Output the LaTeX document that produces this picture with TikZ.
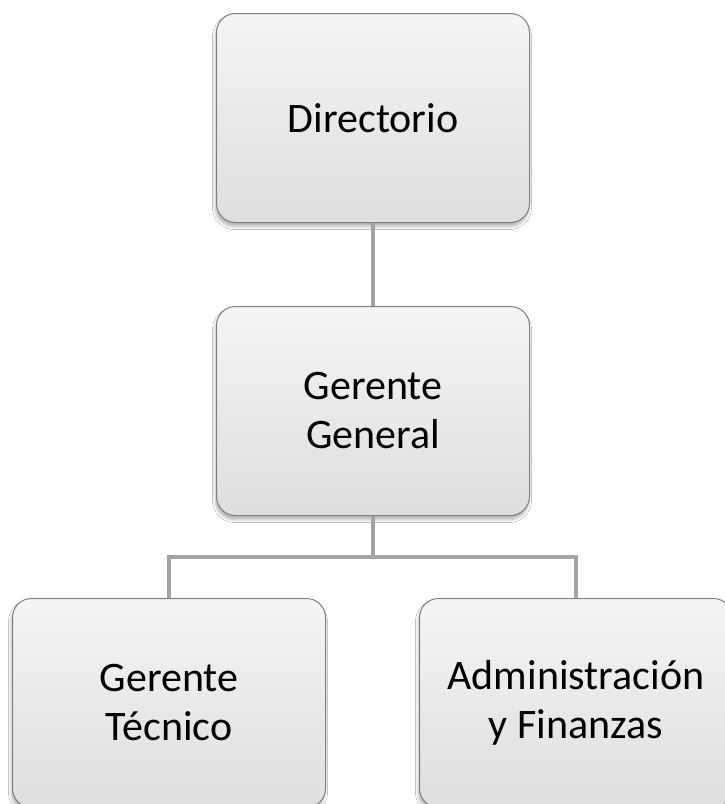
\documentclass[tikz,border=0pt]{standalone}
\usepackage{fontspec}
\setmainfont{Carlito}
\usetikzlibrary{shadows.blur}
\definecolor{boxline}{HTML}{7F7F7F}
\definecolor{conncol}{HTML}{A3A3A3}
\tikzset{
  orgbox/.style={draw=boxline, line width=1pt, rounded corners=19pt,
    minimum width=313pt, minimum height=209pt, inner sep=0pt,
    top color=black!4, bottom color=black!13, align=center,
    font=\fontsize{42}{49}\selectfont,
    blur shadow={shadow xshift=-1pt, shadow yshift=-4pt, shadow blur radius=3pt, shadow blur steps=6, shadow opacity=30}},
  conn/.style={draw=conncol, line width=4pt}
}
\begin{document}
\begin{tikzpicture}[x=1pt,y=-1pt]
\useasboundingbox[fill=white] (0,0) rectangle (725,804);
\clip (0,0) rectangle (725,804);
\node[orgbox] (dir) at (373,118) {Directorio};
\node[orgbox] (gg) at (373,411) {Gerente\\General};
\node[orgbox] (gt) at (169,703) {Gerente\\Técnico};
\node[orgbox] (af) at (576,703) {Administración\\y Finanzas};
\coordinate (j) at (373,557);
\draw[conn] (dir.south) -- (gg.north);
\draw[conn] (gg.south) -- (j);
\draw[conn] (gt.north) |- (j) -| (af.north);
\end{tikzpicture}
\end{document}
